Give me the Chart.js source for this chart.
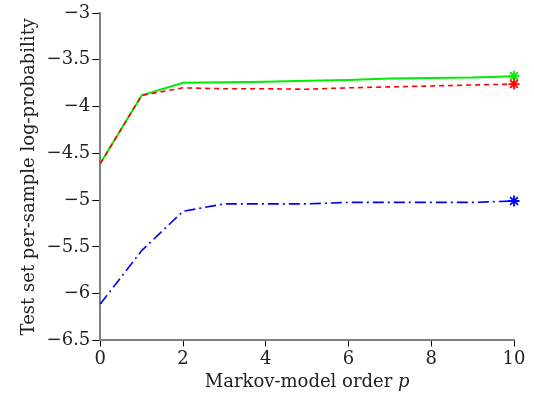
<!DOCTYPE html>
<html>
<head>
<meta charset="utf-8">
<script src="https://cdn.jsdelivr.net/npm/chart.js@4"></script>
<style>
  html, body { margin: 0; padding: 0; background: #fff; }
  #wrap { width: 534px; height: 408px; }
</style>
</head>
<body>
<div id="wrap"><canvas id="myChart"></canvas></div>
<script>
// Markov-Ordnung p und Log-Wahrscheinlichkeiten
var orders = [0, 1, 2, 3, 4, 5, 6, 7, 8, 9, 10];
var greenVals = [-4.61, -3.88, -3.745, -3.74, -3.735, -3.725, -3.715, -3.70, -3.695, -3.69, -3.675];
var redVals = [-4.61, -3.88, -3.80, -3.81, -3.81, -3.815, -3.80, -3.79, -3.78, -3.77, -3.76];
var blueVals = [-6.11, -5.54, -5.12, -5.04, -5.04, -5.04, -5.025, -5.025, -5.025, -5.025, -5.01];

function toPoints(vals) {
  return orders.map(function (x, i) { return { x: x, y: vals[i] }; });
}
// nur am Ende ein Stern
var starRadius = orders.map(function (x, i) { return i == orders.length - 1 ? 5.5 : 0; });

var serif = "'DejaVu Serif', 'Liberation Serif', serif";
var textColor = "#222";

// x-Achsentitel mit kursivem p
var xTitlePlugin = {
  id: "xTitle",
  afterDraw: function (c) {
    var ctx = c.ctx;
    var a = c.chartArea;
    var part1 = "Markov-model order ";
    var part2 = "p";
    ctx.save();
    ctx.fillStyle = textColor;
    ctx.textBaseline = "middle";
    ctx.font = "18px " + serif;
    var w1 = ctx.measureText(part1).width;
    ctx.font = "italic 18px " + serif;
    var w2 = ctx.measureText(part2).width;
    var x0 = (a.left + a.right) / 2 - (w1 + w2) / 2;
    var y = a.bottom + 42;
    ctx.font = "18px " + serif;
    ctx.fillText(part1, x0, y);
    ctx.font = "italic 18px " + serif;
    ctx.fillText(part2, x0 + w1, y);
    ctx.restore();
  }
};

var chart = new Chart("myChart", {
  type: "line",
  data: {
    datasets: [{
      label: "blau",
      data: toPoints(blueVals),
      borderColor: "#0000ff",
      backgroundColor: "#0000ff",
      borderWidth: 1.6,
      borderDash: [11, 4, 2, 4],
      pointStyle: "star",
      pointRadius: starRadius,
      pointBorderWidth: 1.8,
      clip: false,
      fill: false
    }, {
      label: "rot",
      data: toPoints(redVals),
      borderColor: "#ff0000",
      backgroundColor: "#ff0000",
      borderWidth: 1.6,
      borderDash: [5, 4],
      pointStyle: "star",
      pointRadius: starRadius,
      pointBorderWidth: 1.8,
      clip: false,
      fill: false
    }, {
      label: "gruen",
      data: toPoints(greenVals),
      borderColor: "#00ee00",
      backgroundColor: "#00ee00",
      borderWidth: 2,
      pointStyle: "star",
      pointRadius: starRadius,
      pointBorderWidth: 1.8,
      clip: false,
      fill: false
    }]
  },
  options: {
    responsive: true,
    maintainAspectRatio: false,
    animation: false,
    layout: { padding: { top: 13, right: 20, left: 15, bottom: 36 } },
    plugins: {
      legend: { display: false },
      tooltip: { enabled: false }
    },
    elements: { line: { tension: 0 } },
    scales: {
      x: {
        type: "linear",
        min: 0,
        max: 10,
        border: { color: "#808080", width: 2 },
        grid: { drawOnChartArea: false, color: "#000", tickLength: 6 },
        ticks: {
          stepSize: 2,
          color: textColor,
          font: { family: serif, size: 18 },
          padding: 2
        }
      },
      y: {
        min: -6.5,
        max: -3,
        border: { color: "#808080", width: 2 },
        grid: { drawOnChartArea: false, color: "#000", tickLength: 8 },
        ticks: {
          stepSize: 0.5,
          color: textColor,
          font: { family: serif, size: 18 },
          padding: 2,
          callback: function (v) { return String(v).replace("-", "\u2212"); }
        },
        title: {
          display: true,
          text: "Test set per-sample log-probability",
          color: textColor,
          font: { family: serif, size: 18 },
          padding: { bottom: 4 }
        }
      }
    }
  },
  plugins: [xTitlePlugin]
});
</script>
</body>
</html>
